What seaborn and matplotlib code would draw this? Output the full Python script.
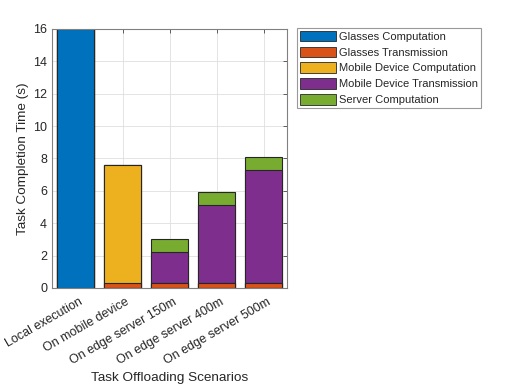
import numpy as np
import pandas as pd
import matplotlib
matplotlib.use("Agg")
import matplotlib.pyplot as plt
import matplotlib.patches as mpatches
import matplotlib.transforms as mtransforms
import seaborn as sns

# ---------------------------------------------------------------------------
# Data
# ---------------------------------------------------------------------------
SCENARIOS = ["Local execution", "On mobile device", "On edge server 150m",
             "On edge server 400m", "On edge server 500m"]
COMPONENTS = ["Glasses Computation", "Glasses Transmission",
              "Mobile Device Computation", "Mobile Device Transmission",
              "Server Computation"]

glasses_comp = [16.0, 0.0, 0.0, 0.0, 0.0]
glasses_tx = [0.0, 0.3, 0.3, 0.3, 0.3]
mobile_comp = [0.0, 7.3, 0.0, 0.0, 0.0]
mobile_tx = [0.0, 0.0, 1.9, 4.85, 7.0]
server_comp = [0.0, 0.0, 0.8, 0.8, 0.8]

COLORS = ["#0072BD", "#D95319", "#EDB120", "#7E2F8E", "#77AC30"]

# ---------------------------------------------------------------------------
# Plot
# ---------------------------------------------------------------------------
sns.set_style("white")
plt.rcParams["font.family"] = ["Liberation Sans", "DejaVu Sans"]

df = pd.DataFrame({"Scenario": SCENARIOS})
layers = [glasses_comp, glasses_tx, mobile_comp, mobile_tx, server_comp]
cum = np.cumsum(np.array(layers), axis=0)

fig = plt.figure(figsize=(5.12, 3.84), dpi=100)
ax = fig.add_axes([0.1016, 0.25, 0.459, 0.6745])

# stacked bars: draw cumulative totals from the top layer down
for i in reversed(range(len(COMPONENTS))):
    df["value"] = cum[i]
    sns.barplot(data=df, x="Scenario", y="value", color=COLORS[i],
                saturation=1, width=0.8, edgecolor="#262626", linewidth=0.8,
                ax=ax, zorder=2)

ax.set_xlim(-0.5, 4.5)
ax.set_ylim(0, 16)
ax.set_yticks(np.arange(0, 17, 2))
ax.set_xticks(range(len(SCENARIOS)))
ax.set_xticklabels(SCENARIOS, rotation=30, ha="right", va="top",
                   rotation_mode="anchor", fontsize=9, color="#262626")
ax.tick_params(axis="both", direction="in", length=3, width=0.5, colors="#262626",
               top=True, right=True, labelsize=9)
# nudge rotated labels (after tick_params, which resets label transforms)
offset = mtransforms.ScaledTranslation(3 / 100, -3 / 100, fig.dpi_scale_trans)
for lab in ax.get_xticklabels():
    lab.set_transform(lab.get_transform() + offset)
ax.grid(True, color="#dfdfdf", linewidth=0.6, zorder=0)
ax.set_axisbelow(True)
for s in ax.spines.values():
    s.set_color("#808080")
    s.set_linewidth(0.8)

ax.set_xlabel("Task Offloading Scenarios", fontsize=9.7, color="#262626",
              labelpad=4)
ax.set_ylabel("Task Completion Time (s)", fontsize=9.7, color="#262626",
              labelpad=3)

handles = [mpatches.Patch(facecolor=c, edgecolor="#262626", linewidth=0.6, label=l)
           for c, l in zip(COLORS, COMPONENTS)]
leg = fig.legend(handles=handles, loc="upper left",
                 bbox_to_anchor=(297 / 512, 1 - 28 / 384), fontsize=8,
                 frameon=True, fancybox=False, borderpad=0.25, labelspacing=0.42,
                 handlelength=3.3, handleheight=1.1, handletextpad=0.25,
                 borderaxespad=0)
leg.get_frame().set_edgecolor("#808080")
leg.get_frame().set_linewidth(0.8)

fig.savefig("out.png", dpi=100)
